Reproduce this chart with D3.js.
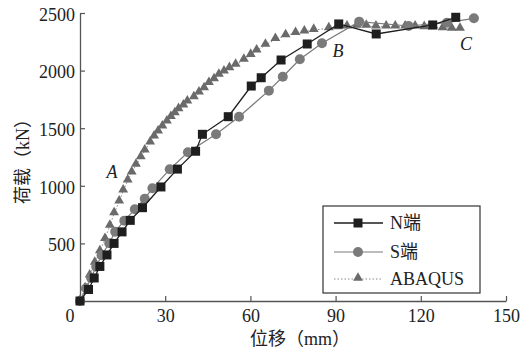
<!DOCTYPE html>
<html>
<head>
<meta charset="utf-8">
<script src="https://cdn.jsdelivr.net/npm/d3@7"></script>
<style>
  html, body { margin: 0; padding: 0; background: #fff; }
  svg { display: block; }
  svg text { font-family: "Times New Roman", "Liberation Serif", Tinos, "DejaVu Serif", serif, "Noto Sans CJK SC"; fill: #222; }
</style>
</head>
<body>
<svg id="chart" width="532" height="356"></svg>
<script>
// Load–displacement data (displacement in mm, load in kN)
const nX = [0, 3, 5, 7, 9.5, 12, 14.8, 17.7, 22, 28.5, 34.3, 40.7, 43.1, 52.2, 60.3, 63.8, 70.8, 80, 91.1, 104.3, 124.2, 132.3];
const nY = [0, 100, 200, 300, 400, 500, 600, 700, 810, 990, 1145, 1300, 1447, 1600, 1866, 1938, 2092, 2231, 2405, 2318, 2396, 2463];

const sX = [0, 2.1, 3.9, 5.7, 7.6, 10.3, 12.4, 15.6, 19.3, 22.8, 25.5, 31.6, 38.0, 47.9, 56.0, 66.5, 71.4, 77.4, 85.2, 98.3, 115.7, 129.2, 138.7];
const sY = [0, 110, 202, 298, 397, 501, 602, 697, 796, 888, 978, 1143, 1291, 1447, 1600, 1826, 1947, 2098, 2237, 2425, 2387, 2416, 2454];

const aX = [0, 1.8, 3.4, 5.2, 7.0, 8.8, 10.5, 12.0, 13.8, 15.2, 16.8, 18.2, 19.7, 21.4, 22.8, 24.7, 26.1, 27.5, 29.0, 30.6, 32.0, 33.4, 34.7, 36.4, 37.8, 40.1, 41.9, 43.7, 45.4, 47.2, 48.9, 50.7, 52.6, 54.8, 57.7, 60.1, 62.2, 65.3, 68.8, 72.4, 75.9, 79.0, 82.3, 87.6, 90.7, 94.0, 97.5, 100.8, 104.2, 107.8, 111.0, 114.5, 118.0, 121.2, 124.2, 127.7, 130.9, 133.8];
const aY = [0, 110, 220, 330, 430, 536, 651, 761, 862, 957, 1044, 1114, 1181, 1247, 1305, 1374, 1426, 1470, 1513, 1556, 1595, 1629, 1664, 1695, 1730, 1768, 1808, 1846, 1890, 1924, 1962, 1990, 2020, 2049, 2092, 2135, 2173, 2222, 2272, 2305, 2324, 2338, 2352, 2367, 2376, 2381, 2387, 2387, 2381, 2381, 2381, 2381, 2381, 2376, 2376, 2367, 2361, 2361];

const xTicks = [0, 30, 60, 90, 120, 150];
const yTicks = [500, 1000, 1500, 2000, 2500];

const seriesNames = ["N端", "S端", "ABAQUS"];

const svg = d3.select("#chart");
const x = d3.scaleLinear().domain([0, 150]).range([80, 506]);
const y = d3.scaleLinear().domain([0, 2500]).range([301, 13]);

const axisColor = "#555";
const fontSize = 18;
const fmt = d3.format("d");

// X axis (ticks pointing inward)
const gx = svg.append("g").attr("transform", `translate(0,${y(0)})`)
  .call(d3.axisBottom(x).tickValues(xTicks.filter(d => d !== 0)).tickFormat(fmt).tickSize(-5).tickSizeOuter(0).tickPadding(8));
gx.attr("font-family", null).attr("font-size", null);
gx.select(".domain").attr("stroke", axisColor).attr("stroke-width", 1.3);
gx.selectAll(".tick line").attr("stroke", axisColor).attr("stroke-width", 1.2);
gx.selectAll(".tick text").attr("font-size", fontSize).attr("fill", "#222");

// Y axis (ticks pointing inward)
const gy = svg.append("g").attr("transform", `translate(${x(0)},0)`)
  .call(d3.axisLeft(y).tickValues(yTicks).tickFormat(fmt).tickSize(-5).tickSizeOuter(0).tickPadding(5));
gy.attr("font-family", null).attr("font-size", null);
gy.select(".domain").attr("stroke", axisColor).attr("stroke-width", 1.3);
gy.selectAll(".tick line").attr("stroke", axisColor).attr("stroke-width", 1.2);
gy.selectAll(".tick text").attr("font-size", fontSize).attr("fill", "#222").attr("dy", "0.4em");

// shared origin label
svg.append("text").attr("x", 70).attr("y", y(0) + 8).attr("dy", "0.71em")
  .attr("text-anchor", "middle").attr("font-size", fontSize).text(fmt(xTicks[0]));

// Axis titles
svg.append("text").attr("x", 300).attr("y", 345).attr("text-anchor", "middle")
  .attr("font-size", fontSize).text("位移（mm）");
svg.append("text").attr("transform", `translate(29,157) rotate(-90)`)
  .attr("text-anchor", "middle").attr("font-size", fontSize).text("荷载（kN）");

const zip = (xs, ys) => xs.map((v, i) => [v, ys[i]]);
const line = d3.line().x(d => x(d[0])).y(d => y(d[1]));

const dataN = zip(nX, nY), dataS = zip(sX, sY), dataA = zip(aX, aY);

const colN = "#1e1e1e", colS = "#7a7a7a", colA = "#6a6a6a";

// ABAQUS: dotted line with triangles
svg.append("path").datum(dataA).attr("d", line).attr("fill", "none")
  .attr("stroke", "#888").attr("stroke-width", 1).attr("stroke-dasharray", "1.5,2");
const tri = d3.symbol().type(d3.symbolTriangle).size(42);
svg.append("g").selectAll("path").data(dataA).join("path")
  .attr("d", tri).attr("transform", d => `translate(${x(d[0])},${y(d[1]) - 1})`)
  .attr("fill", colA);

// S end: grey line with circles
svg.append("path").datum(dataS).attr("d", line).attr("fill", "none")
  .attr("stroke", colS).attr("stroke-width", 1.2);
svg.append("g").selectAll("circle").data(dataS).join("circle")
  .attr("cx", d => x(d[0])).attr("cy", d => y(d[1])).attr("r", 5)
  .attr("fill", colS);

// N end: black line with squares
svg.append("path").datum(dataN).attr("d", line).attr("fill", "none")
  .attr("stroke", colN).attr("stroke-width", 1.3);
svg.append("g").selectAll("rect").data(dataN).join("rect")
  .attr("x", d => x(d[0]) - 4.5).attr("y", d => y(d[1]) - 4.5)
  .attr("width", 9).attr("height", 9).attr("fill", colN);

// Point annotations
const notes = [["A", 112, 178], ["B", 338, 57], ["C", 466, 50]];
svg.selectAll("text.note").data(notes).join("text").attr("class", "note")
  .attr("x", d => d[1]).attr("y", d => d[2]).attr("text-anchor", "middle")
  .attr("font-size", fontSize).attr("font-style", "italic").text(d => d[0]);

// Legend
const lg = svg.append("g");
lg.append("rect").attr("x", 323).attr("y", 206).attr("width", 157).attr("height", 87)
  .attr("fill", "#fff").attr("stroke", "#333").attr("stroke-width", 1.2);
const rows = [223, 252, 279];
const lx1 = 334, lx2 = 383, lm = 358;
lg.append("line").attr("x1", lx1).attr("x2", lx2).attr("y1", rows[0]).attr("y2", rows[0]).attr("stroke", colN).attr("stroke-width", 1.3);
lg.append("rect").attr("x", lm - 4.5).attr("y", rows[0] - 4.5).attr("width", 9).attr("height", 9).attr("fill", colN);
lg.append("line").attr("x1", lx1).attr("x2", lx2).attr("y1", rows[1]).attr("y2", rows[1]).attr("stroke", colS).attr("stroke-width", 1.2);
lg.append("circle").attr("cx", lm).attr("cy", rows[1]).attr("r", 5).attr("fill", colS);
lg.append("line").attr("x1", lx1).attr("x2", lx2).attr("y1", rows[2]).attr("y2", rows[2]).attr("stroke", "#888").attr("stroke-dasharray", "1.5,2");
lg.append("path").attr("d", tri).attr("transform", `translate(${lm},${rows[2] - 1})`).attr("fill", colA);
lg.selectAll("text").data(seriesNames).join("text")
  .attr("x", 390).attr("y", (d, i) => rows[i]).attr("dy", "0.36em")
  .attr("font-size", fontSize).text(d => d);
</script>
</body>
</html>
